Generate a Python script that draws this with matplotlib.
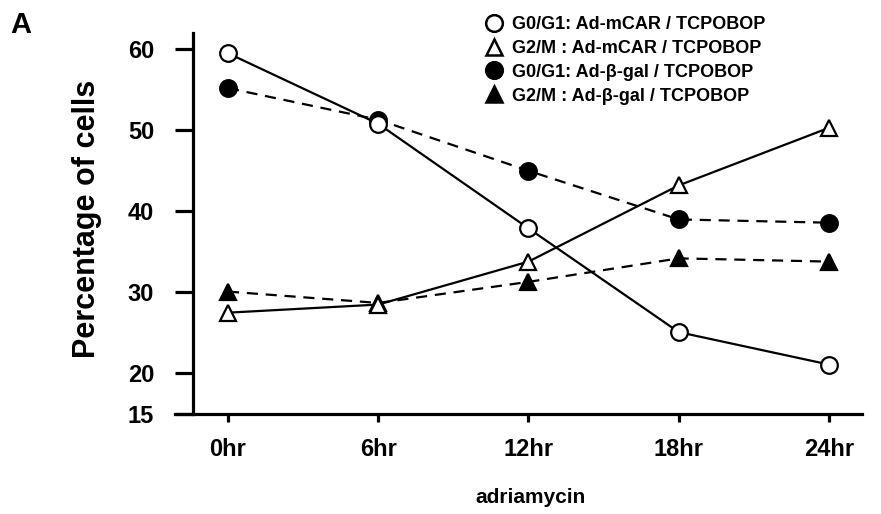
import matplotlib
matplotlib.use("Agg")
import matplotlib.pyplot as plt

plt.rcParams['font.family'] = ['Liberation Sans', 'DejaVu Sans']
plt.rcParams['font.weight'] = 'bold'

times = ["0hr", "6hr", "12hr", "18hr", "24hr"]
g01_mcar = [59.5, 50.8, 37.9, 25.1, 21.1]
g2m_mcar = [27.5, 28.5, 33.8, 43.2, 50.3]
g01_bgal = [55.2, 51.3, 45.0, 39.0, 38.6]
g2m_bgal = [30.1, 28.7, 31.3, 34.2, 33.8]
yticks = [15, 20, 30, 40, 50, 60]

labels = ["G0/G1: Ad-mCAR / TCPOBOP",
          "G2/M : Ad-mCAR / TCPOBOP",
          "G0/G1: Ad-\u03b2-gal / TCPOBOP",
          "G2/M : Ad-\u03b2-gal / TCPOBOP"]

fig = plt.figure(figsize=(8.81, 5.14), dpi=100)
ax = fig.add_axes([193/881, 1-414/514, (862-193)/881, (414-33)/514])

x = list(range(len(times)))
ms = 12
mew = 1.6
lw = 1.6
dash = (0, (5, 3.5))

l1, = ax.plot(x, g01_mcar, '-', color='black', lw=lw, marker='o', ms=ms,
              mfc='white', mec='black', mew=mew, zorder=3)
l2, = ax.plot(x, g2m_mcar, '-', color='black', lw=lw, marker='^', ms=ms,
              mfc='white', mec='black', mew=mew, zorder=3)
l3, = ax.plot(x, g01_bgal, linestyle=dash, color='black', lw=lw, marker='o', ms=ms,
              mfc='black', mec='black', mew=mew, zorder=2)
l4, = ax.plot(x, g2m_bgal, linestyle=dash, color='black', lw=lw, marker='^', ms=ms,
              mfc='black', mec='black', mew=mew, zorder=2)

ax.set_xlim(-0.233, 4.22)
ax.set_ylim(15, 62)
ax.set_yticks(yticks)
ax.set_yticklabels([str(t) for t in yticks])
ax.set_xticks(x)
ax.set_xticklabels(times)

for s in ['top', 'right']:
    ax.spines[s].set_visible(False)
for s in ['left', 'bottom']:
    ax.spines[s].set_linewidth(2.3)
ax.spines['bottom'].set_bounds(-0.353, 4.22)

ax.tick_params(axis='y', length=13, width=2.3, labelsize=17, pad=15)
ax.tick_params(axis='x', length=6, width=2.3, labelsize=17, pad=11)
for t in ax.get_xticklabels() + ax.get_yticklabels():
    t.set_fontweight('bold')

ax.set_ylabel("Percentage of cells", fontsize=22, fontweight='bold')
ax.yaxis.set_label_coords((102-193)/669, (414-219)/381)
ax.set_xlabel("adriamycin", fontsize=15, fontweight='bold')
ax.xaxis.set_label_coords((530-193)/669, (414-488)/381)

fig.text(10/881, 1-33/514, "A", fontsize=21, fontweight='bold', va='baseline')

handles = []
for h in [l1, l2, l3, l4]:
    handles.append(plt.Line2D([], [], linestyle='none', marker=h.get_marker(),
                              ms=12, mfc=h.get_markerfacecolor(), mec='black', mew=1.8))
fig.legend(handles, labels, loc='upper left', bbox_to_anchor=(485/881, 1-16/514),
           frameon=False, handletextpad=0.48, labelspacing=0.38,
           handlelength=1.0, borderaxespad=0, borderpad=0,
           prop={'weight': 'bold', 'size': 13})

fig.savefig("out.png", dpi=100)
